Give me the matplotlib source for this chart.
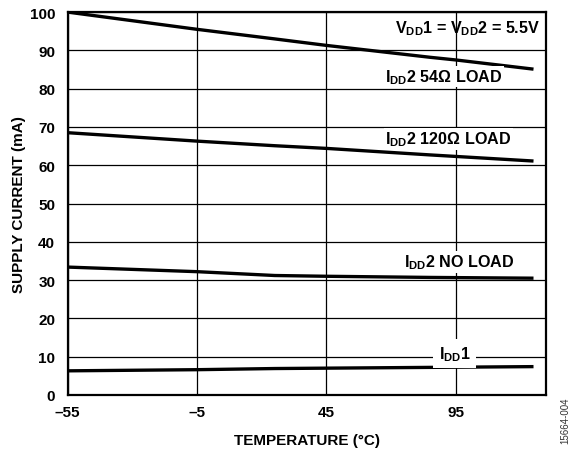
import matplotlib
matplotlib.use("Agg")
from matplotlib import pyplot as plt

plt.rcParams['font.family'] = ['Liberation Sans', 'DejaVu Sans']
plt.rcParams['font.weight'] = 'bold'
plt.rcParams['axes.labelweight'] = 'bold'
plt.rcParams['mathtext.fontset'] = 'custom'
plt.rcParams['mathtext.rm'] = 'Liberation Sans:bold'
plt.rcParams['mathtext.it'] = 'Liberation Sans:bold'
plt.rcParams['mathtext.bf'] = 'Liberation Sans:bold'
plt.rcParams['mathtext.default'] = 'bf'

# temperature points (°C)
TEMP = [-55, -5, 25, 45, 85, 95, 125]

# supply current curves (mA)
IDD2_54 = [100.0, 95.5, 93.0, 91.3, 88.2, 87.5, 85.1]
IDD2_120 = [68.5, 66.3, 65.1, 64.4, 62.7, 62.3, 61.1]
IDD2_NOLOAD = [33.4, 32.2, 31.2, 31.0, 30.7, 30.65, 30.5]
IDD1 = [6.3, 6.6, 6.9, 7.0, 7.2, 7.25, 7.4]

XTICKS = [-55, -5, 45, 95]
XTICKLABELS = ['\u201355', '\u20135', '45', '95']
YTICKS = list(range(0, 101, 10))

fig = plt.figure(figsize=(5.74, 4.52), dpi=100)
ax = fig.add_axes([0.118, 0.124, 0.834, 0.847])

for ys in (IDD2_54, IDD2_120, IDD2_NOLOAD, IDD1):
    ax.plot(TEMP, ys, color='black', lw=2.4, zorder=3, solid_capstyle='butt')

ax.set_xlim(-55, 130)
ax.set_ylim(0, 100)
ax.set_xticks(XTICKS)
ax.set_xticklabels(XTICKLABELS)
ax.set_yticks(YTICKS)
ax.tick_params(length=0, labelsize=11)
ax.tick_params(axis='y', pad=9)
ax.tick_params(axis='x', pad=7)
ax.grid(True, color='black', lw=0.9)
ax.set_axisbelow(True)
for s in ax.spines.values():
    s.set_linewidth(1.6)

box = dict(facecolor='white', edgecolor='none', pad=1.0)
fs = 11.6
ax.text(127.5, 96, r'V$_{DD}$1 = V$_{DD}$2 = 5.5V', ha='right', va='center',
        fontsize=fs, zorder=4)
ax.text(90.3, 83.2, r'I$_{DD}$2 54Ω LOAD', ha='center', va='center',
        fontsize=fs, bbox=box, zorder=4)
ax.text(92, 66.9, r'I$_{DD}$2 120Ω LOAD', ha='center', va='center',
        fontsize=fs, bbox=box, zorder=4)
ax.text(96.4, 34.7, r'I$_{DD}$2 NO LOAD', ha='center', va='center',
        fontsize=fs, bbox=box, zorder=4)
ax.text(94.6, 10.8, r'I$_{DD}$1', ha='center', va='center',
        fontsize=fs, bbox=dict(facecolor='white', edgecolor='none', pad=4), zorder=4)

ax.set_xlabel('TEMPERATURE (°C)', fontsize=11, labelpad=10)
ax.set_ylabel('SUPPLY CURRENT (mA)', fontsize=11, labelpad=3)

fig.text(0.993, 0.07, '15664-004', rotation=90, ha='right', va='center',
         fontsize=7, fontweight='normal', color='#333333')

fig.savefig('out.png', dpi=100)
